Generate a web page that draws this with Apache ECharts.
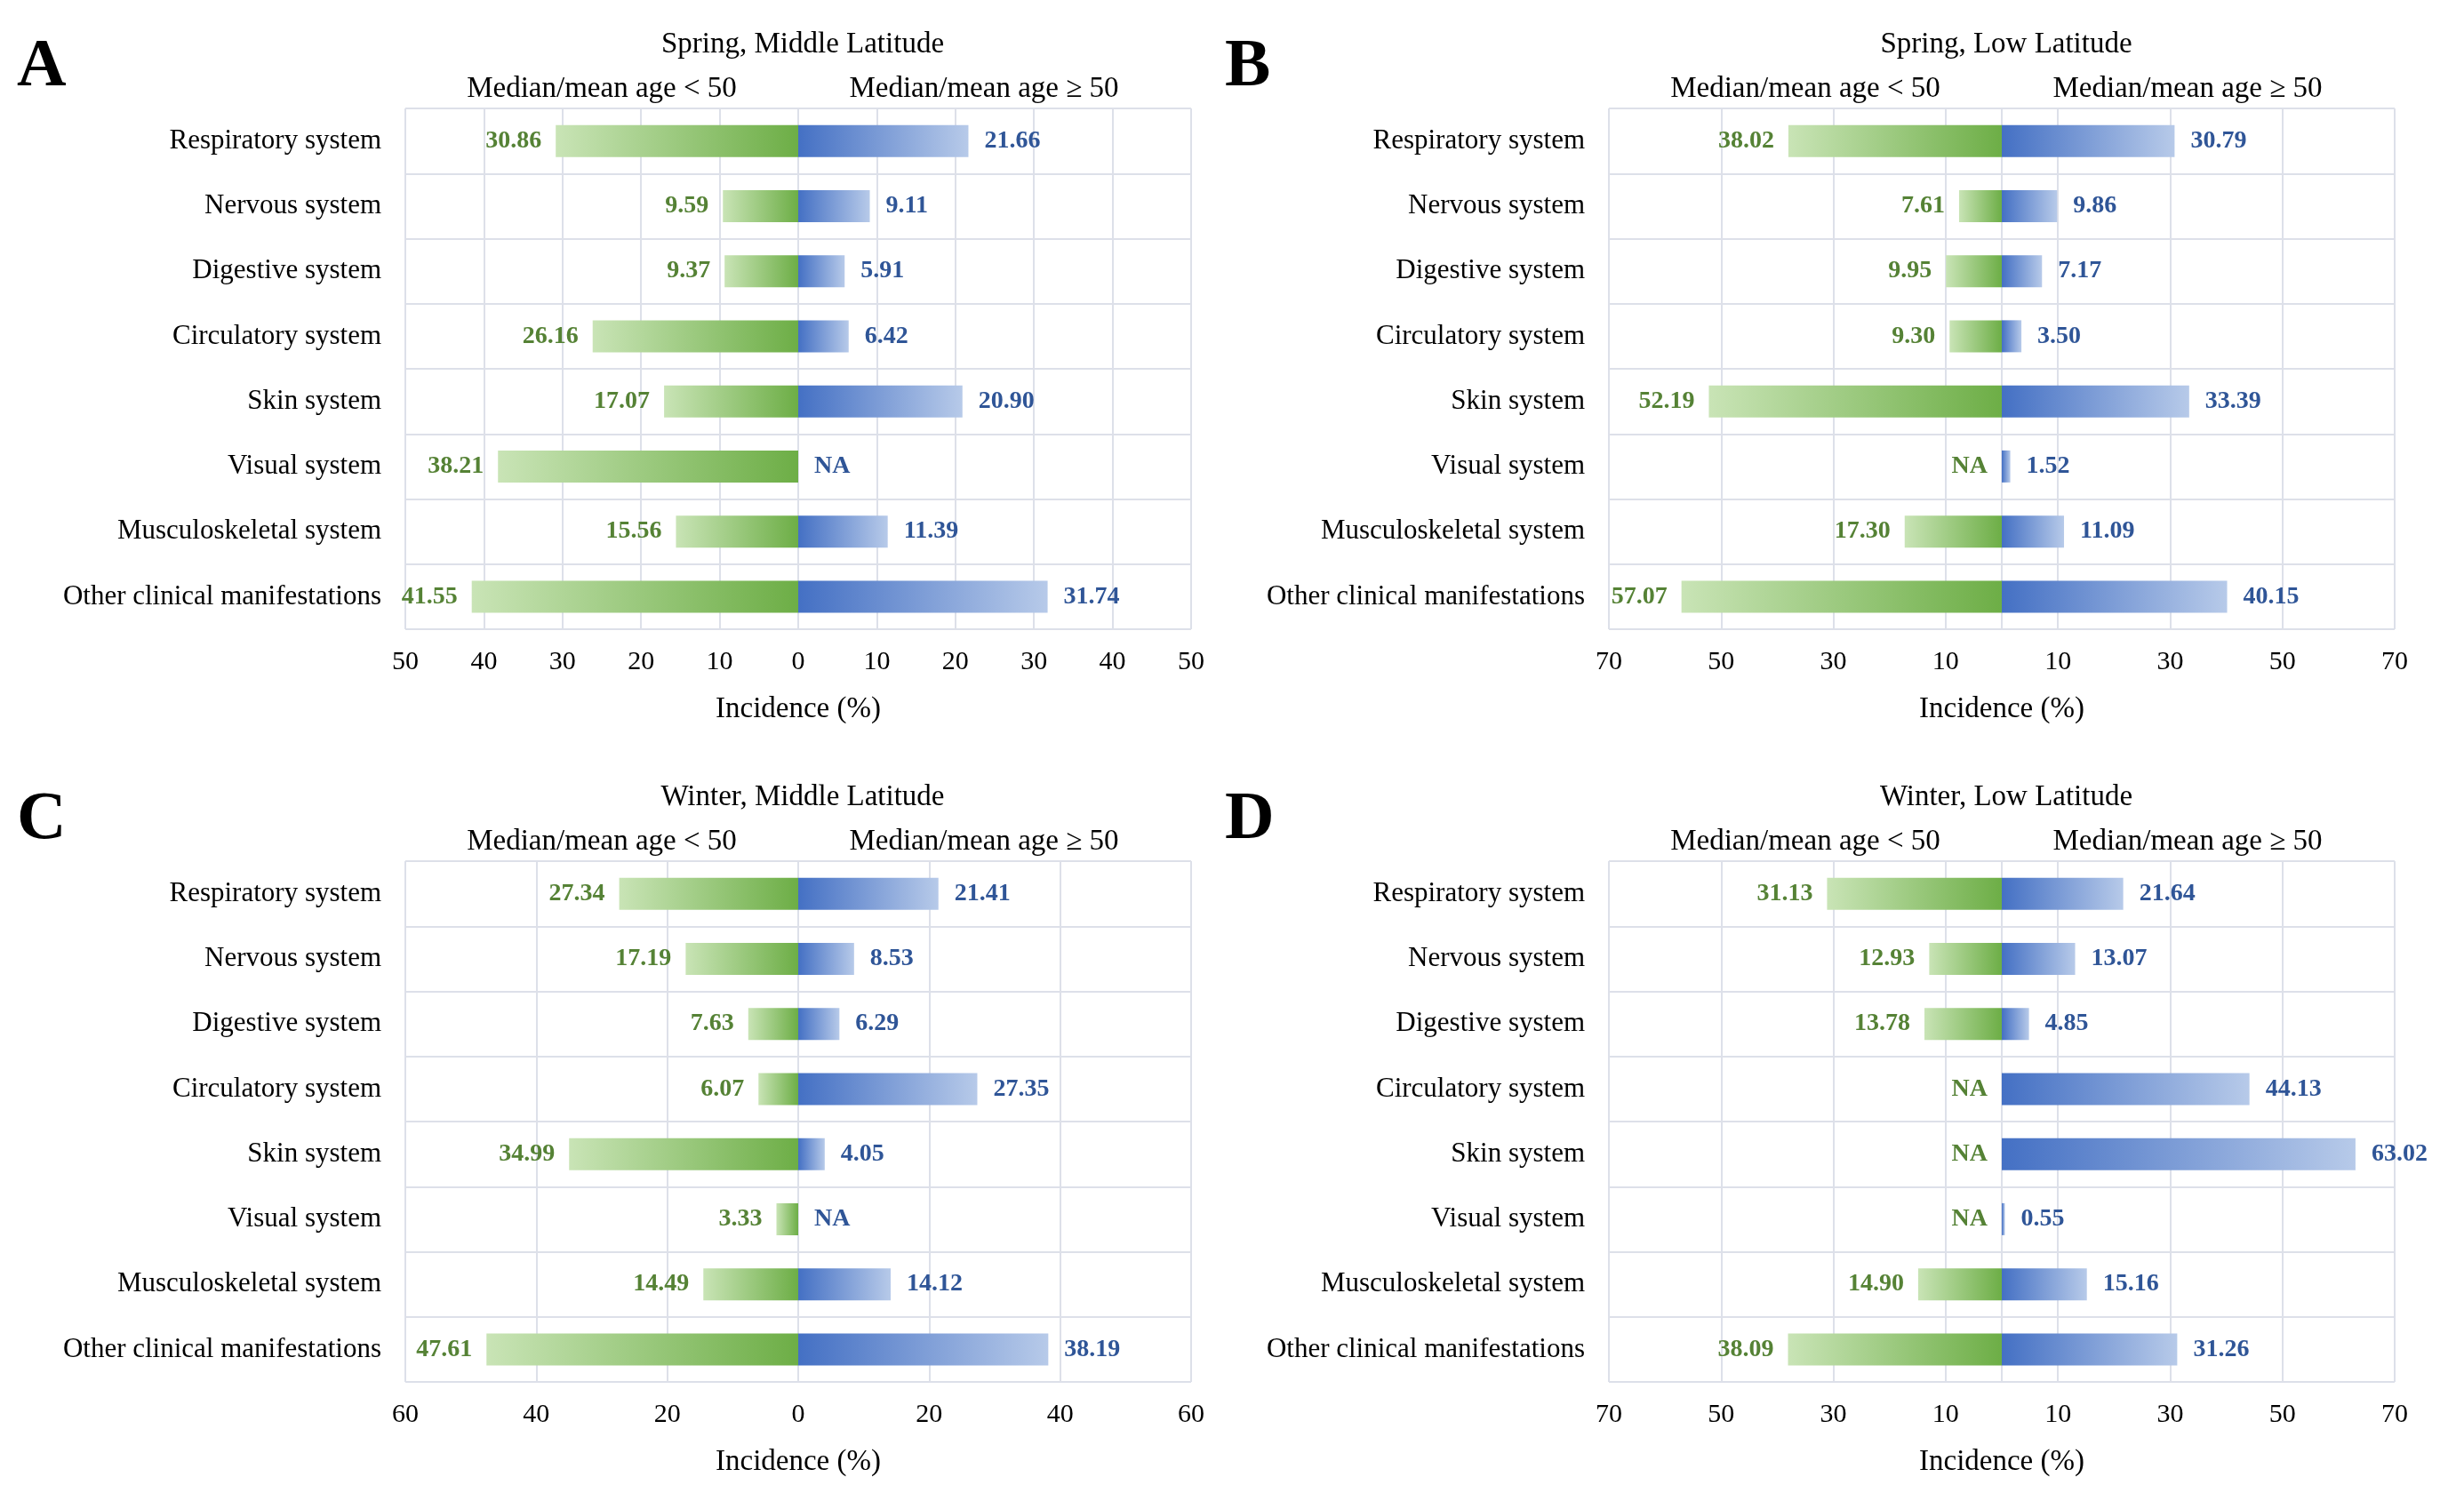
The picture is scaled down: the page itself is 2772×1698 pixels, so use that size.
<!DOCTYPE html>
<html>
<head>
<meta charset="utf-8">
<script src="https://cdn.jsdelivr.net/npm/echarts@6/dist/echarts.min.js"></script>
<style>
  html, body { margin: 0; padding: 0; background: #fff; }
  #main { width: 2772px; height: 1698px; }
</style>
</head>
<body>
<div id="main"></div>
<script>
// data
var categories = ['Respiratory system', 'Nervous system', 'Digestive system', 'Circulatory system',
    'Skin system', 'Visual system', 'Musculoskeletal system', 'Other clinical manifestations'];
var panelTitles = ['Spring, Middle Latitude', 'Spring, Low Latitude', 'Winter, Middle Latitude', 'Winter, Low Latitude'];
var panelLetters = ['A', 'B', 'C', 'D'];
var groupNames = ['Median/mean age < 50', 'Median/mean age \u2265 50'];

// null = NA
var springMidYoung = [30.86, 9.59, 9.37, 26.16, 17.07, 38.21, 15.56, 41.55];
var springMidOld = [21.66, 9.11, 5.91, 6.42, 20.90, null, 11.39, 31.74];
var springLowYoung = [38.02, 7.61, 9.95, 9.30, 52.19, null, 17.30, 57.07];
var springLowOld = [30.79, 9.86, 7.17, 3.50, 33.39, 1.52, 11.09, 40.15];
var winterMidYoung = [27.34, 17.19, 7.63, 6.07, 34.99, 3.33, 14.49, 47.61];
var winterMidOld = [21.41, 8.53, 6.29, 27.35, 4.05, null, 14.12, 38.19];
var winterLowYoung = [31.13, 12.93, 13.78, null, null, null, 14.90, 38.09];
var winterLowOld = [21.64, 13.07, 4.85, 44.13, 63.02, 0.55, 15.16, 31.26];

var youngData = [springMidYoung, springLowYoung, winterMidYoung, winterLowYoung];
var oldData = [springMidOld, springLowOld, winterMidOld, winterLowOld];

// axis ticks
var midLatTicksA = [-50, -40, -30, -20, -10, 0, 10, 20, 30, 40, 50];
var midLatTicksC = [-60, -40, -20, 0, 20, 40, 60];
var lowLatTicks = [-70, -50, -30, -10, 0, 10, 30, 50, 70];
var lowLatLabels = [-70, -50, -30, -10, 10, 30, 50, 70];
var tickValues = [midLatTicksA, lowLatTicks, midLatTicksC, lowLatTicks];
var labelValues = [midLatTicksA, lowLatLabels, midLatTicksC, lowLatLabels];
var axisMax = [50, 70, 60, 70];

var FONT = 'Liberation Serif';
var GRID_COLOR = '#dde0e9';
var GREEN_TEXT = '#558235';
var BLUE_TEXT = '#2f5597';

var gridLeft = [456, 1810, 456, 1810];
var gridTop = [122, 122, 969, 969];
var gridWidth = 884;
var gridHeight = 586;
var letterX = [19, 1378, 19, 1378];

var chartDom = document.getElementById('main');
var myChart = echarts.init(chartDom);

var grids = [], xAxes = [], yAxes = [], series = [], graphics = [];

for (var i = 0; i < 4; i++) {
    var cx = gridLeft[i] + gridWidth / 2;
    grids.push({ left: gridLeft[i], top: gridTop[i], width: gridWidth, height: gridHeight, containLabel: false });

    xAxes.push({
        type: 'value', gridIndex: i, min: -axisMax[i], max: axisMax[i],
        name: 'Incidence (%)', nameLocation: 'middle', nameGap: 74,
        nameTextStyle: { fontFamily: FONT, fontSize: 33, color: '#000' },
        axisLine: { show: false },
        axisTick: { show: false, customValues: tickValues[i] },
        axisLabel: {
            customValues: labelValues[i], margin: 22,
            fontFamily: FONT, fontSize: 30, color: '#000',
            formatter: function (v) { return Math.abs(v); }
        },
        splitLine: { show: true, lineStyle: { color: GRID_COLOR, width: 2 } }
    });

    yAxes.push({
        type: 'category', gridIndex: i, data: categories, inverse: true,
        axisLine: { show: false }, axisTick: { show: false },
        axisLabel: { margin: 27, fontFamily: FONT, fontSize: 31, color: '#000' },
        splitLine: { show: true, interval: 0, lineStyle: { color: GRID_COLOR, width: 2 } }
    });

    series.push({
        type: 'bar', name: groupNames[0], xAxisIndex: i, yAxisIndex: i,
        barWidth: 36, barGap: '-100%',
        data: youngData[i].map(function (v) {
            return v == null ? { value: 0, label: { formatter: 'NA' } } : -v;
        }),
        itemStyle: {
            color: new echarts.graphic.LinearGradient(0, 0, 1, 0, [
                { offset: 0, color: '#c9e4b6' }, { offset: 1, color: '#6dae46' }
            ])
        },
        label: {
            show: true, position: 'left', distance: 16,
            fontFamily: FONT, fontWeight: 'bold', fontSize: 28, color: GREEN_TEXT,
            formatter: function (p) { return Math.abs(p.value).toFixed(2); }
        }
    });

    series.push({
        type: 'bar', name: groupNames[1], xAxisIndex: i, yAxisIndex: i,
        barWidth: 36, barGap: '-100%',
        data: oldData[i].map(function (v) {
            return v == null ? { value: 0, label: { formatter: 'NA' } } : v;
        }),
        itemStyle: {
            color: new echarts.graphic.LinearGradient(0, 0, 1, 0, [
                { offset: 0, color: '#4470c4' }, { offset: 1, color: '#b7cae9' }
            ])
        },
        label: {
            show: true, position: 'right', distance: 18,
            fontFamily: FONT, fontWeight: 'bold', fontSize: 28, color: BLUE_TEXT,
            formatter: function (p) { return Number(p.value).toFixed(2); }
        }
    });

    // panel letter, title and group headers
    graphics.push({
        type: 'text', x: letterX[i], y: gridTop[i] - 46,
        style: { text: panelLetters[i], fontFamily: FONT, fontWeight: 'bold', fontSize: 77,
            fill: '#000', align: 'left', verticalAlign: 'middle' }
    });
    graphics.push({
        type: 'text', x: cx + 5, y: gridTop[i] - 72,
        style: { text: panelTitles[i], fontFamily: FONT, fontSize: 33, fill: '#000',
            align: 'center', verticalAlign: 'middle' }
    });
    graphics.push({
        type: 'text', x: gridLeft[i] + gridWidth / 4, y: gridTop[i] - 22,
        style: { text: groupNames[0], fontFamily: FONT, fontSize: 33, fill: '#000',
            align: 'center', verticalAlign: 'middle' }
    });
    graphics.push({
        type: 'text', x: gridLeft[i] + gridWidth * 3 / 4 - 12, y: gridTop[i] - 22,
        style: { text: groupNames[1], fontFamily: FONT, fontSize: 33, fill: '#000',
            align: 'center', verticalAlign: 'middle' }
    });
}

var option = {
    backgroundColor: '#fff',
    animation: false,
    textStyle: { fontFamily: FONT },
    grid: grids,
    xAxis: xAxes,
    yAxis: yAxes,
    series: series,
    graphic: graphics
};
option && myChart.setOption(option);
</script>
</body>
</html>
